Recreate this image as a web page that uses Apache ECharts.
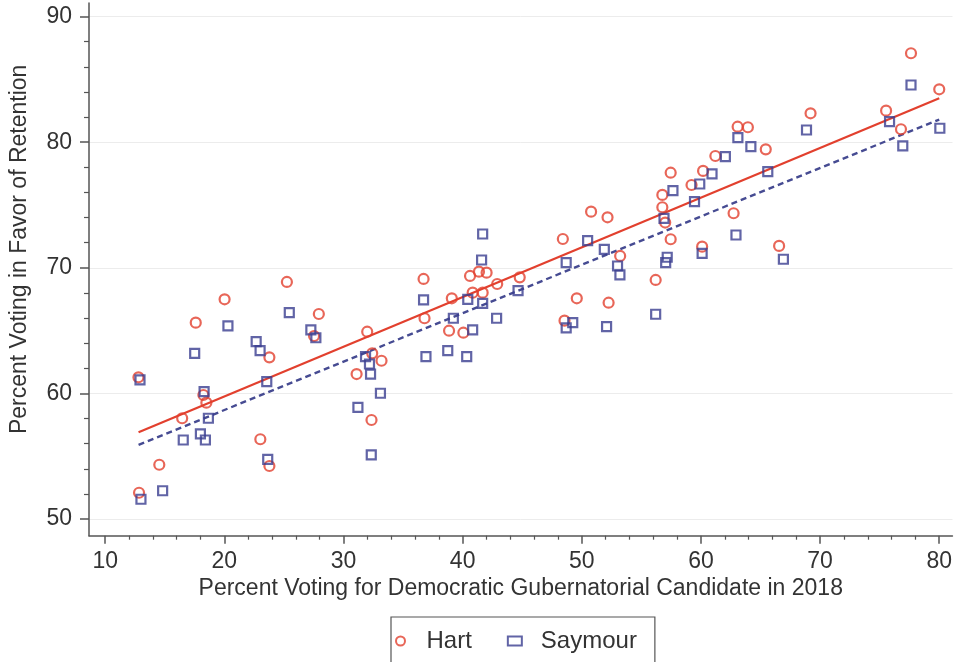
<!DOCTYPE html>
<html>
<head>
<meta charset="utf-8">
<script src="https://cdn.jsdelivr.net/npm/echarts@6/dist/echarts.min.js"></script>
<style>
html,body{margin:0;padding:0;background:#fff;}
#chart{width:955px;height:662px;}
</style>
</head>
<body>
<div id="chart"></div>
<script>
// Hart: [percent Democratic 2018, percent retention]
const hartPoints = [
  [25.25,68.87],[20.02,67.49],[17.6,65.63],[27.93,66.32],[23.78,62.87],[12.79,61.28],
  [18.24,59.87],[18.49,59.26],[16.46,58.02],[23.02,56.35],[14.54,54.32],[23.78,54.22],
  [12.84,52.09],[27.53,64.57],[31.99,64.91],[32.41,63.19],[33.19,62.6],[31.1,61.54],
  [32.35,57.88],[36.72,69.11],[36.8,65.98],[38.86,64.99],[39.09,67.57],[40.06,64.83],
  [40.62,69.35],[41.37,69.69],[42.01,69.61],[40.84,68.02],[41.68,68.02],[42.9,68.71],
  [44.79,69.24],[48.41,72.29],[50.78,74.47],[52.16,74.02],[49.58,67.57],[52.25,67.22],
  [48.55,65.79],[53.22,70.94],[56.2,69.03],[56.76,75.8],[56.76,74.82],[57.46,77.57],
  [57.46,72.27],[61.21,78.9],[60.18,77.71],[59.21,76.59],[60.1,71.68],[57.0,73.6],
  [77.63,87.08],[80.0,84.21],[75.54,82.51],[76.79,81.03],[69.2,82.3],[63.08,81.23],
  [63.94,81.19],[65.44,79.43],[62.74,74.34],[66.56,71.74]
];
// Saymour
const saymourPoints = [
  [25.45,66.43],[20.3,65.37],[17.51,63.19],[22.67,64.12],[23.0,63.4],[12.92,61.07],
  [23.56,60.93],[18.3,60.14],[18.66,58.02],[16.55,56.29],[17.99,56.77],[18.41,56.29],
  [23.64,54.75],[14.82,52.25],[13.0,51.57],[27.26,65.05],[27.68,64.43],[41.68,72.69],
  [41.59,70.62],[31.85,62.92],[32.18,62.34],[32.27,61.54],[33.1,60.01],[31.21,58.89],
  [32.33,55.1],[36.72,67.44],[36.92,62.92],[38.75,63.4],[40.34,62.92],[39.22,65.98],
  [40.43,67.49],[40.84,65.05],[41.68,67.17],[42.85,65.98],[44.65,68.18],[48.69,70.41],
  [50.49,72.16],[51.89,71.47],[53.0,70.14],[53.2,69.43],[48.69,65.21],[49.24,65.63],
  [52.08,65.31],[56.2,66.3],[56.9,73.94],[57.65,76.14],[57.17,70.84],[57.04,70.41],
  [59.46,75.26],[59.9,76.67],[60.93,77.47],[60.1,71.15],[77.63,84.55],[80.05,81.11],
  [75.83,81.63],[76.94,79.7],[68.86,80.97],[63.1,80.36],[64.19,79.64],[62.05,78.85],
  [65.61,77.65],[62.94,72.61],[66.92,70.68]
];
// Fitted line endpoints
const hartFit = [[12.8,56.9],[80.0,83.5]];
const saymourFit = [[12.8,55.9],[80.0,81.8]];

// Tick values
const xMajorTicks = [10,20,30,40,50,60,70,80];
const xMinorTicks = [12,14,16,18,22,24,26,28,32,34,36,38,42,44,46,48,52,54,56,58,62,64,66,68,72,74,76,78];
const yMajorTicks = [50,60,70,80,90];
const yMinorTicks = [52,54,56,58,62,64,66,68,72,74,76,78,82,84,86,88];

const X_MIN = 8.64, X_MAX = 81.11, Y_MIN = 48.67, Y_MAX = 91.08;
const FONT = "'Liberation Sans', Arial, sans-serif";
const TXT = '#333';
const AX = '#555';
const RED = '#e2402e';
const BLUE = '#3a3d90';

const chart = echarts.init(document.getElementById('chart'), null, {renderer:'canvas'});
chart.setOption({
  animation:false,
  backgroundColor:'#fff',
  grid:{left:87, right:0, top:3, bottom:126.3, containLabel:false},
  legend:{
    data:['Hart','Saymour'],
    left:391, top:617,
    orient:'horizontal',
    padding:[12,18,12,4],
    itemGap:35,
    itemWidth:14, itemHeight:9,
    borderColor:'#555', borderWidth:1.2,
    textStyle:{fontFamily:FONT, fontSize:24, color:TXT, padding:[0,0,0,14]}
  },
  xAxis:[{
    type:'value', min:X_MIN, max:X_MAX, position:'bottom',
    name:'Percent Voting for Democratic Gubernatorial Candidate in 2018',
    nameLocation:'middle', nameGap:40,
    nameTextStyle:{fontFamily:FONT, fontSize:23, color:TXT},
    axisLine:{show:true, onZero:false, lineStyle:{color:AX, width:1.5}},
    axisTick:{show:true, customValues:xMajorTicks, length:8, lineStyle:{color:AX, width:1.5}},
    axisLabel:{show:true, customValues:xMajorTicks, margin:14, fontFamily:FONT, fontSize:23, color:TXT},
    splitLine:{show:false}
  },{
    type:'value', min:X_MIN, max:X_MAX, position:'bottom',
    axisLine:{show:false, onZero:false},
    axisTick:{show:true, customValues:xMinorTicks, length:4, lineStyle:{color:AX, width:1.2}},
    axisLabel:{show:false},
    splitLine:{show:false}
  }],
  yAxis:[{
    type:'value', min:Y_MIN, max:Y_MAX, position:'left',
    name:'Percent Voting in Favor of Retention',
    nameLocation:'middle', nameGap:58,
    nameTextStyle:{fontFamily:FONT, fontSize:23, color:TXT, padding:[0,0,0,40]},
    axisLine:{show:true, onZero:false, lineStyle:{color:AX, width:1.5}},
    axisTick:{show:true, customValues:yMajorTicks, length:9, lineStyle:{color:AX, width:1.5}},
    axisLabel:{show:true, customValues:yMajorTicks, margin:17, fontFamily:FONT, fontSize:23, color:TXT},
    splitLine:{show:true, lineStyle:{color:'#ececec', width:1}}
  },{
    type:'value', min:Y_MIN, max:Y_MAX, position:'left',
    axisLine:{show:false, onZero:false},
    axisTick:{show:true, customValues:yMinorTicks, length:5, lineStyle:{color:AX, width:1.2}},
    axisLabel:{show:false},
    splitLine:{show:false}
  }],
  series:[
    {
      name:'Hart', type:'scatter', xAxisIndex:0, yAxisIndex:0,
      data:hartPoints, symbol:'circle', symbolSize:10,
      itemStyle:{color:'rgba(255,255,255,0)', borderColor:RED, borderWidth:2.2},
      z:3
    },
    {
      name:'Saymour', type:'scatter', xAxisIndex:0, yAxisIndex:0,
      data:saymourPoints, symbol:'rect', symbolSize:9,
      itemStyle:{color:'rgba(255,255,255,0)', borderColor:BLUE, borderWidth:2.2},
      z:4
    },
    {
      name:'Hart fit', type:'line', xAxisIndex:0, yAxisIndex:0,
      data:hartFit, showSymbol:false, symbol:'none',
      lineStyle:{color:RED, width:2.2}, z:2, silent:true
    },
    {
      name:'Saymour fit', type:'line', xAxisIndex:0, yAxisIndex:0,
      data:saymourFit, showSymbol:false, symbol:'none',
      lineStyle:{color:'#464b92', width:2.4, type:[6,4]}, z:2, silent:true
    }
  ]
});
</script>
</body>
</html>
